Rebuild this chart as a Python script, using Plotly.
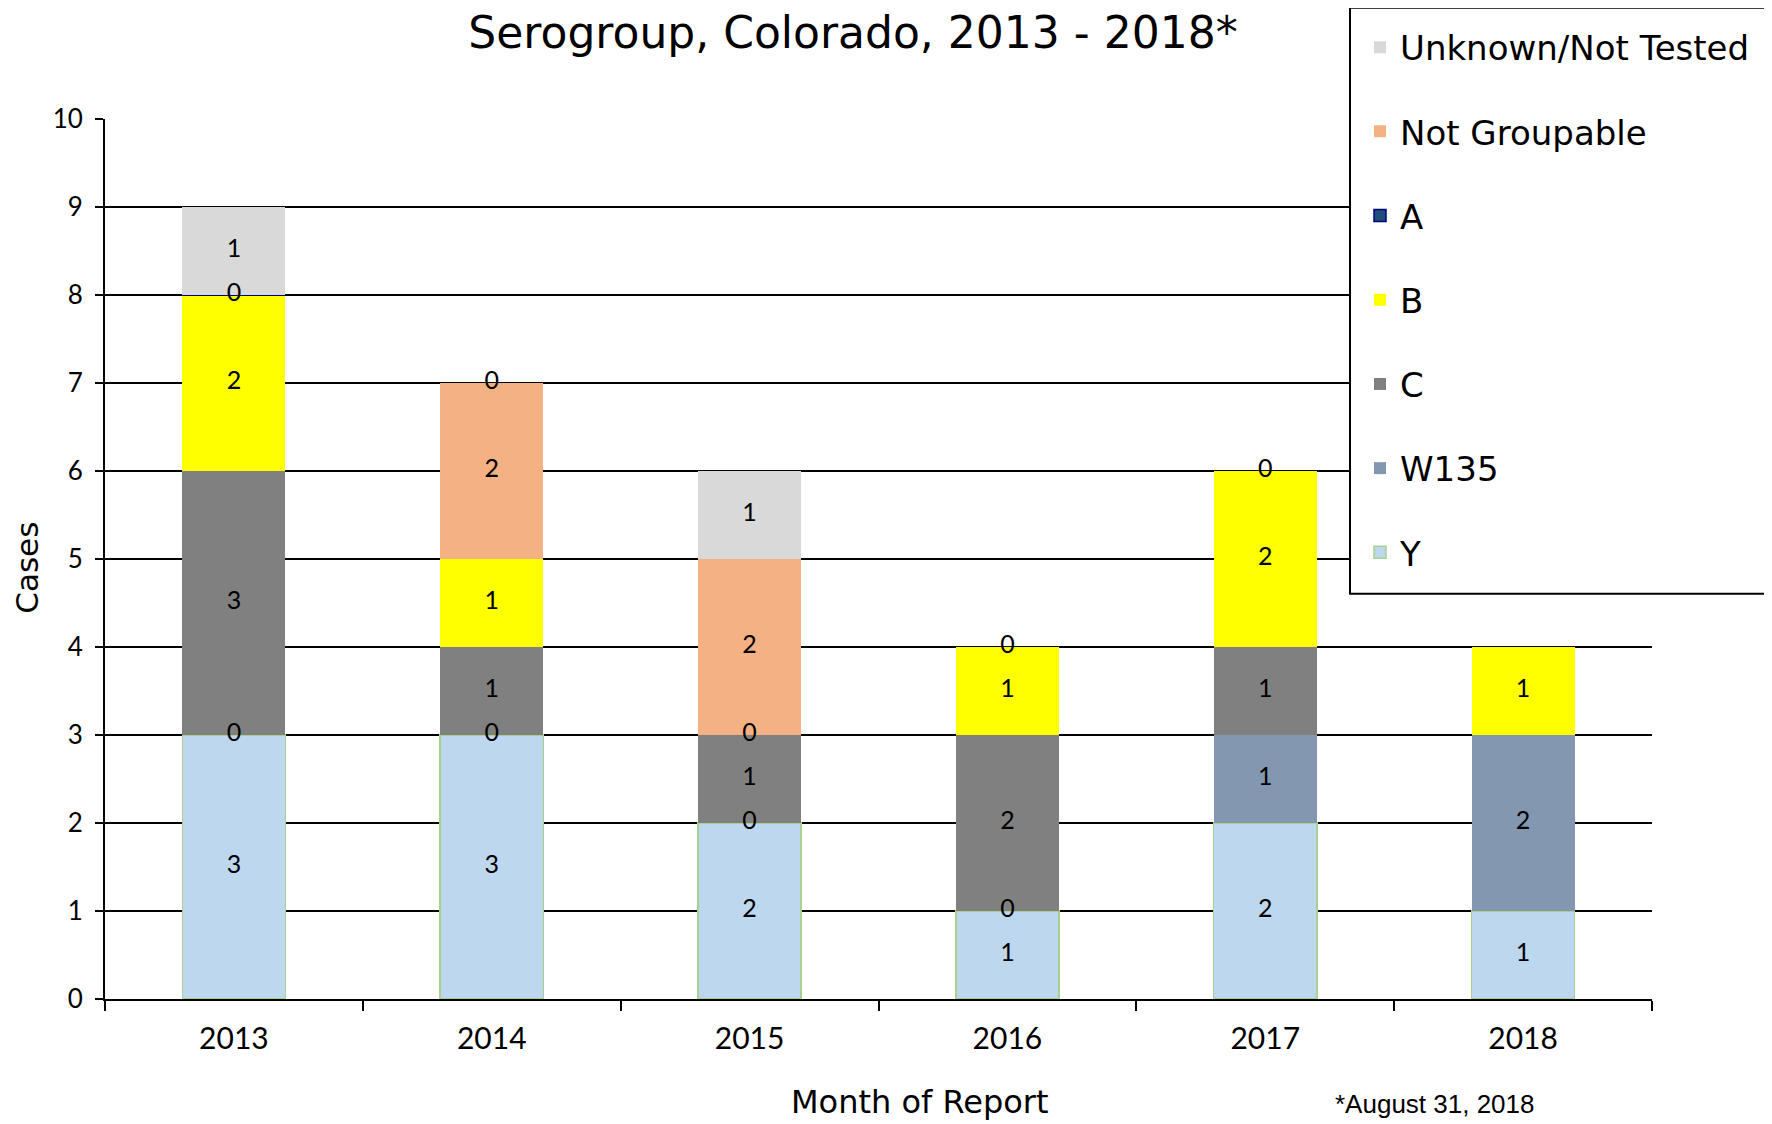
import plotly.graph_objects as go

years = ["2013", "2014", "2015", "2016", "2017", "2018"]

# stack order bottom -> top
y_vals = [3, 3, 2, 1, 2, 1]
w135_vals = [0, 0, 0, 0, 1, 2]
c_vals = [3, 1, 1, 2, 1, None]
b_vals = [2, 1, 0, 1, 2, 1]
a_vals = [0, None, None, None, None, None]
ng_vals = [None, 2, 2, 0, None, None]
unk_vals = [1, 0, 1, None, 0, None]

series = [
    ("Y", y_vals, "#BDD7EE", "#A9D18E", 1.5),
    ("W135", w135_vals, "#8497B0", "#8497B0", 0),
    ("C", c_vals, "#808080", "#808080", 0),
    ("B", b_vals, "#FFFF00", "#FFFF00", 0),
    ("A", a_vals, "#1F4E79", "#000080", 1.5),
    ("Not Groupable", ng_vals, "#F4B183", "#F4B183", 0),
    ("Unknown/Not Tested", unk_vals, "#D9D9D9", "#D9D9D9", 0),
]

fig = go.Figure()
n = len(series)
for i, (name, vals, fill, line, lw) in enumerate(series):
    fig.add_trace(go.Bar(
        x=years, y=vals, name=name,
        marker=dict(color=fill, line=dict(color=line, width=lw)),
        legendgroup=name, legendrank=n - i,
    ))

# data labels at segment centres
lx, ly, lt = [], [], []
for j, yr in enumerate(years):
    base = 0
    for name, vals, *_ in series:
        v = vals[j]
        if v is None:
            continue
        lx.append(yr)
        ly.append(base + v / 2)
        lt.append(str(v))
        base += v
fig.add_trace(go.Scatter(
    x=lx, y=ly, text=lt, mode="text", showlegend=False,
    textfont=dict(family="Lato", size=25, color="black"),
    textposition="middle center", hoverinfo="skip",
))

OFF = 8  # page body margin
W, H = 1772 - OFF, 1124 - OFF
L, R, T, B = 105 - OFF, 1652 - OFF, 117.5 - OFF, 999 - OFF
pw, ph = R - L, B - T


def px(x):
    return (x - OFF - L) / pw


def py(y):
    return (B - (y - OFF)) / ph


fig.update_layout(
    width=W, height=H,
    margin=dict(l=L, r=W - R, t=T, b=H - B),
    barmode="stack", bargap=0.6,
    plot_bgcolor="white", paper_bgcolor="white",
    title=dict(text="Serogroup, Colorado, 2013 - 2018*", x=(853 - OFF) / W, xanchor="center",
               xref="container", y=1 - (33 - OFF) / H, yanchor="middle", yref="container",
               font=dict(family="DejaVu Sans", size=44, color="black")),
    legend=dict(x=px(1360), y=py(18), xanchor="left", yanchor="top",
                borderwidth=0, bgcolor="rgba(0,0,0,0)",
                font=dict(family="DejaVu Sans", size=34, color="black"),
                traceorder="grouped", tracegroupgap=37, maxheight=900),
    showlegend=True,
)
# legend frame
fig.add_shape(type="rect", xref="paper", yref="paper",
              x0=px(1350), x1=px(1765), y0=py(593), y1=py(6),
              fillcolor="white", line=dict(color="black", width=2), layer="above")

fig.update_xaxes(
    type="category", showline=True, linecolor="black", linewidth=2,
    ticks="outside", tickson="boundaries", ticklen=10, tickwidth=2, tickcolor="black",
    tickfont=dict(family="Lato", size=30, color="black"), showgrid=False,
    ticklabelstandoff=12,
)
fig.update_yaxes(
    range=[0, 10], dtick=1, showline=True, linecolor="black", linewidth=2,
    ticks="outside", ticklen=8, tickwidth=2, tickcolor="black",
    tickfont=dict(family="Lato", size=26, color="black"),
    showgrid=True, gridcolor="black", gridwidth=2, zeroline=False,
    ticklabelstandoff=7,
)
fig.add_annotation(text="Cases", x=px(27), y=py(567), xref="paper", yref="paper",
                   textangle=-90, showarrow=False, xanchor="center", yanchor="middle",
                   font=dict(family="DejaVu Sans", size=31, color="black"))
fig.add_annotation(text="Month of Report", x=px(920), y=py(1102), xref="paper", yref="paper",
                   showarrow=False, xanchor="center", yanchor="middle",
                   font=dict(family="DejaVu Sans", size=32, color="black"))
fig.add_annotation(text="*August 31, 2018", x=px(1435), y=py(1104), xref="paper", yref="paper",
                   showarrow=False, xanchor="center", yanchor="middle",
                   font=dict(family="Liberation Sans", size=26, color="black"))

fig.write_html("out.html")
